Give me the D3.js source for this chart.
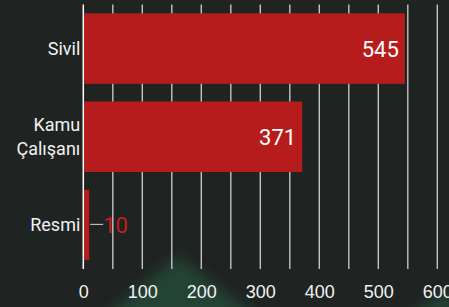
<!DOCTYPE html>
<meta charset="utf-8">
<script src="https://d3js.org/d3.v7.min.js"></script>
<style>
  html, body { margin: 0; padding: 0; background: #1f2321; }
  svg { display: block; font-family: Roboto, "Noto Sans", sans-serif; }
</style>
<div id="chart"></div>
<script>

// data
const categories = ["Sivil", "Kamu\nÇalışanı", "Resmi"];
const values = [545, 371, 10];
const ticks = [0, 100, 200, 300, 400, 500, 600];

const W = 449, H = 307;
const margin = {top: 4.5, right: 12, bottom: 38, left: 83.3};

const svg = d3.select("#chart")
  .append("svg")
    .attr("width", W)
    .attr("height", H);

// background with faint green glow
const defs = svg.append("defs");
defs.append("filter").attr("id", "blur")
  .append("feGaussianBlur").attr("stdDeviation", 7);

svg.append("rect")
  .attr("width", W).attr("height", H)
  .attr("fill", "#1f2321");

svg.append("path")
  .attr("d", "M100,320 L178,256 L262,320 Z")
  .attr("fill", "#2c6a4f")
  .attr("opacity", 0.45)
  .attr("filter", "url(#blur)");
svg.append("path")
  .attr("d", "M405,320 L449,288 L460,320 Z")
  .attr("fill", "#2c6a4f")
  .attr("opacity", 0.45)
  .attr("filter", "url(#blur)");

const x = d3.scaleLinear()
  .domain([0, 600])
  .range([margin.left, margin.left + 354]);

const y = d3.scaleBand()
  .domain(categories)
  .range([margin.top, 269])
  .paddingInner(0.2)
  .paddingOuter(0.1);

// vertical grid lines every 50
const grid = d3.range(50, 601, 50);
svg.append("g")
  .selectAll("line")
  .data(grid)
  .join("line")
    .attr("x1", d => x(d))
    .attr("x2", d => x(d))
    .attr("y1", margin.top)
    .attr("y2", 269)
    .attr("stroke", "#c4c4c4")
    .attr("stroke-width", 1.4);

// bars
svg.append("g")
  .selectAll("rect")
  .data(values)
  .join("rect")
    .attr("x", x(0))
    .attr("y", (d, i) => y(categories[i]))
    .attr("width", d => x(d) - x(0))
    .attr("height", y.bandwidth())
    .attr("fill", "#b71c1c");

// zero axis line
svg.append("line")
  .attr("x1", x(0)).attr("x2", x(0))
  .attr("y1", margin.top).attr("y2", 269)
  .attr("stroke", "#ffffff")
  .attr("stroke-width", 1.5);

// x axis tick labels
const xAxis = svg.append("g")
  .attr("transform", `translate(0, 269)`)
  .call(d3.axisBottom(x).tickValues(ticks).tickSize(0).tickPadding(0));
xAxis.select(".domain").remove();
xAxis.selectAll("text")
  .attr("y", 29)
  .attr("dy", null)
  .attr("fill", "#f2f2f2")
  .attr("font-size", 18);

// category labels
const catLabels = svg.append("g")
  .selectAll("text")
  .data(categories)
  .join("text")
    .attr("text-anchor", "end")
    .attr("fill", "#f2f2f2")
    .attr("font-size", 18)
    .attr("x", x(0) - 3);
catLabels.each(function(d) {
  const lines = d.split("\n");
  const cy = y(d) + y.bandwidth() / 2;
  const lh = 24.5;
  lines.forEach((t, k) => {
    d3.select(this).append("tspan")
      .attr("x", x(0) - 3)
      .attr("y", cy + 6.3 + (k - (lines.length - 1) / 2) * lh)
      .text(t);
  });
});

// value labels
values.forEach((v, i) => {
  const cy = y(categories[i]) + y.bandwidth() / 2;
  const inside = x(v) - x(0) > 50;
  if (inside) {
    svg.append("text")
      .attr("x", x(v) - 6)
      .attr("y", cy + 8)
      .attr("text-anchor", "end")
      .attr("fill", "#ffffff")
      .attr("font-size", 22)
      .text(v);
  } else {
    svg.append("line")
      .attr("x1", x(v) + 1).attr("x2", x(v) + 14)
      .attr("y1", cy - 0.5).attr("y2", cy - 0.5)
      .attr("stroke", "#bdbdbd")
      .attr("stroke-width", 1.2);
    svg.append("text")
      .attr("x", x(v) + 14)
      .attr("y", cy + 8)
      .attr("text-anchor", "start")
      .attr("fill", "#c0201f")
      .attr("font-size", 22)
      .text(v);
  }
});
</script>
